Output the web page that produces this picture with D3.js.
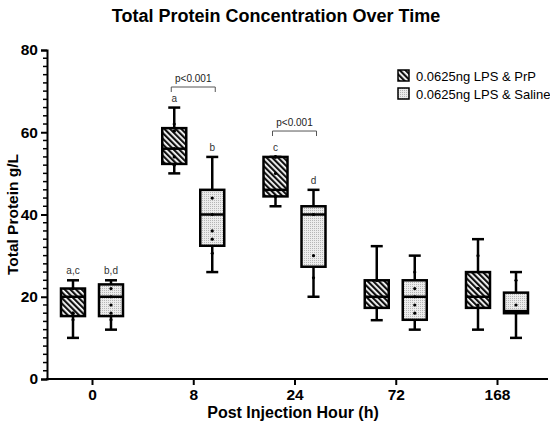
<!DOCTYPE html>
<html lang="en">
<head>
<meta charset="UTF-8">
<title>Total Protein Concentration Over Time</title>
<script src="https://d3js.org/d3.v7.min.js"></script>
<style>
  body { margin: 0; background: #fff; font-family: "Liberation Sans", Arial, sans-serif; }
  svg { display: block; }
</style>
</head>
<body>
<svg width="550" height="426"></svg>
<script>
const hours = ["0", "8", "24", "72", "168"];
const seriesNames = ["0.0625ng LPS & PrP", "0.0625ng LPS & Saline"];

// [min, q1, median, q3, max] per hour
const prpBoxes = [
  [10, 15.3, 20, 22, 24],
  [50, 52.3, 56, 61, 66],
  [42, 44.4, 46, 54, 54],
  [14.3, 17.3, 20, 24, 32.3],
  [12, 17.3, 20, 26, 34]
];
const salineBoxes = [
  [12, 15.3, 20, 23, 24],
  [26, 32.4, 40, 46, 54],
  [20, 27.3, 40, 42, 46],
  [12, 14.4, 20, 24, 30],
  [10, 16, 16.5, 21, 26]
];
const prpPoints = [
  [22, 16, 16, 14.4],
  [62, 60.3, 60.3, 56, 54, 52],
  [54, 54, 54, 50, 44.4, 44.4, 44.4],
  [24, 24, 20, 17.3],
  [30, 22, 22, 18, 17.3]
];
const salinePoints = [
  [22, 20, 18, 16, 14.4],
  [44, 40, 36, 34, 30.6],
  [40, 30, 24.6],
  [26, 22, 20, 18, 16],
  [24, 18, 16]
];
const sigLetters = [["a,c", "b,d"], ["a", "b"], ["c", "d"], ["", ""], ["", ""]];
const brackets = [{ hour: "8", label: "p<0.001", y: 71 }, { hour: "24", label: "p<0.001", y: 60.3 }];
const yTicks = [0, 20, 40, 60, 80];

const svg = d3.select("svg");
const margin = { left: 47, right: 548, top: 50, bottom: 379 };

const x = d3.scalePoint().domain(hours).range([92, 497]);
const y = d3.scaleLinear().domain([0, 80]).range([margin.bottom, margin.top]);
const offset = 19, boxW = 24;

// patterns
const defs = svg.append("defs");
const hatch = defs.append("pattern").attr("id", "hatch").attr("patternUnits", "userSpaceOnUse")
  .attr("width", 4).attr("height", 4).attr("patternTransform", "rotate(-45)");
hatch.append("rect").attr("width", 4).attr("height", 4).attr("fill", "#fff");
hatch.append("rect").attr("width", 2.2).attr("height", 4).attr("fill", "#111");

const stipple = defs.append("pattern").attr("id", "stipple").attr("patternUnits", "userSpaceOnUse")
  .attr("width", 2).attr("height", 2);
stipple.append("rect").attr("width", 2).attr("height", 2).attr("fill", "#ececec");
stipple.append("rect").attr("width", 1).attr("height", 1).attr("fill", "#b5b5b5");

// title
svg.append("text").attr("x", 276).attr("y", 22).attr("text-anchor", "middle")
  .attr("font-weight", "bold").attr("font-size", 18).text("Total Protein Concentration Over Time");

// y axis
const yAxis = svg.append("g").attr("transform", `translate(${margin.left},0)`)
  .call(d3.axisLeft(y).tickValues(yTicks).tickSize(6).tickPadding(3));
yAxis.select(".domain").attr("stroke-width", 2);
yAxis.selectAll(".tick line").attr("stroke-width", 2);
yAxis.selectAll(".tick text").attr("font-size", 15.5).attr("font-weight", "bold")
  .attr("font-family", "Liberation Sans, Arial, sans-serif").attr("fill", "#000");
svg.append("g").attr("transform", `translate(${margin.left},0)`)
  .selectAll("line").data(d3.range(0, 81, 2).filter(v => v % 20 !== 0)).join("line")
  .attr("x1", -4).attr("x2", 0).attr("y1", d => y(d)).attr("y2", d => y(d))
  .attr("stroke", "#000").attr("stroke-width", 1.5);

svg.append("text").attr("transform", `translate(18,${(margin.top + margin.bottom) / 2}) rotate(-90)`)
  .attr("text-anchor", "middle").attr("font-weight", "bold").attr("font-size", 15.5).text("Total Protein g/L");

// x axis
const xAxis = svg.append("g").attr("transform", `translate(0,${margin.bottom})`)
  .call(d3.axisBottom(x).tickSize(6).tickPadding(4));
xAxis.select(".domain").remove();
xAxis.append("line").attr("x1", margin.left - 1).attr("x2", margin.right).attr("stroke", "#000").attr("stroke-width", 2);
xAxis.selectAll(".tick line").attr("stroke-width", 2);
xAxis.selectAll(".tick text").attr("font-size", 15.5).attr("font-weight", "bold")
  .attr("font-family", "Liberation Sans, Arial, sans-serif").attr("fill", "#000");

svg.append("text").attr("x", 293).attr("y", 418).attr("text-anchor", "middle")
  .attr("font-weight", "bold").attr("font-size", 16).text("Post Injection Hour (h)");

// boxes
function drawBoxes(boxes, points, dx, fill, letterIdx) {
  const g = svg.append("g");
  boxes.forEach((b, i) => {
    const cx = x(hours[i]) + dx;
    const [mn, q1, med, q3, mx] = b;
    g.append("line").attr("x1", cx).attr("x2", cx).attr("y1", y(mx)).attr("y2", y(q3))
      .attr("stroke", "#000").attr("stroke-width", 2.5);
    g.append("line").attr("x1", cx).attr("x2", cx).attr("y1", y(q1)).attr("y2", y(mn))
      .attr("stroke", "#000").attr("stroke-width", 2.5);
    [mn, mx].forEach(v => g.append("line").attr("x1", cx - 6).attr("x2", cx + 6)
      .attr("y1", y(v)).attr("y2", y(v)).attr("stroke", "#000").attr("stroke-width", 2.5));
    g.append("rect").attr("x", cx - boxW / 2).attr("y", y(q3)).attr("width", boxW)
      .attr("height", y(q1) - y(q3)).attr("fill", fill).attr("stroke", "#000").attr("stroke-width", 2.5);
    g.append("line").attr("x1", cx - boxW / 2).attr("x2", cx + boxW / 2).attr("y1", y(med)).attr("y2", y(med))
      .attr("stroke", "#000").attr("stroke-width", 2.5);
    g.selectAll(null).data(points[i]).join("circle")
      .attr("cx", cx).attr("cy", d => y(d)).attr("r", 1.6).attr("fill", "#000");
    const lab = sigLetters[i][letterIdx];
    if (lab) g.append("text").attr("x", cx).attr("y", y(mx) - 6).attr("text-anchor", "middle")
      .attr("font-size", 10).attr("fill", "#333").text(lab);
  });
}
drawBoxes(prpBoxes, prpPoints, -offset, "url(#hatch)", 0);
drawBoxes(salineBoxes, salinePoints, offset, "url(#stipple)", 1);

// significance brackets
brackets.forEach(br => {
  const c = x(br.hour);
  const x1 = c - offset - 3, x2 = c + offset + 3, yy = y(br.y);
  svg.append("path").attr("d", `M${x1},${yy + 5}V${yy}H${x2}V${yy + 5}`)
    .attr("fill", "none").attr("stroke", "#555").attr("stroke-width", 1);
  svg.append("text").attr("x", c).attr("y", yy - 5).attr("text-anchor", "middle")
    .attr("font-size", 10).attr("fill", "#222").text(br.label);
});

// legend
const legend = svg.append("g").attr("transform", "translate(398,70)");
[["url(#hatch)", seriesNames[0]], ["url(#stipple)", seriesNames[1]]].forEach(([f, name], i) => {
  legend.append("rect").attr("x", 0).attr("y", i * 18).attr("width", 11).attr("height", 11)
    .attr("fill", f).attr("stroke", "#000").attr("stroke-width", 1.5);
  legend.append("text").attr("x", 18).attr("y", i * 18 + 10.5).attr("font-size", 13).text(name);
});
</script>
</body>
</html>
